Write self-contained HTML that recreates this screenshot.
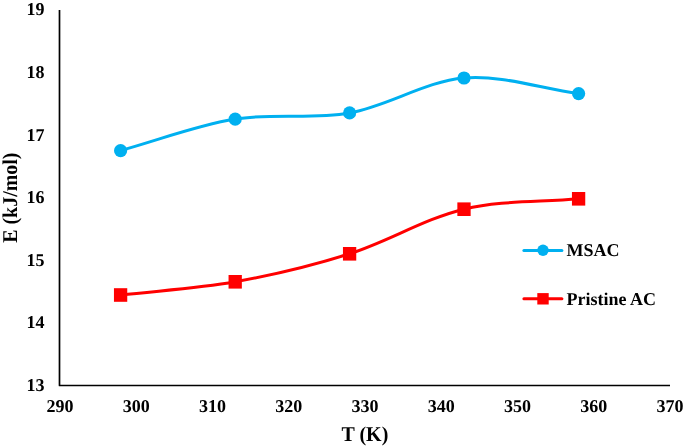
<!DOCTYPE html>
<html><head><meta charset="utf-8"><style>
html,body{margin:0;padding:0;background:#fff;width:685px;height:447px;overflow:hidden}
svg{display:block;will-change:transform}
text{font-family:"Liberation Serif",serif;font-weight:bold;fill:#000;text-rendering:geometricPrecision}
.t{font-size:18px}
.a{font-size:21px}
</style></head><body>
<svg width="685" height="447" viewBox="0 0 685 447">
<path d="M59.5,9.9 L59.5,385.5 L670,385.5" fill="none" stroke="#000" stroke-width="1.7" stroke-linejoin="round"/>
<text transform="translate(44.50,391.00)" text-anchor="end" class="t">13</text>
<text transform="translate(44.50,328.00)" text-anchor="end" class="t">14</text>
<text transform="translate(44.50,266.00)" text-anchor="end" class="t">15</text>
<text transform="translate(44.50,203.00)" text-anchor="end" class="t">16</text>
<text transform="translate(44.50,141.00)" text-anchor="end" class="t">17</text>
<text transform="translate(44.50,78.00)" text-anchor="end" class="t">18</text>
<text transform="translate(44.50,15.00)" text-anchor="end" class="t">19</text>
<text transform="translate(60.00,412.00)" text-anchor="middle" class="t">290</text>
<text transform="translate(136.25,412.00)" text-anchor="middle" class="t">300</text>
<text transform="translate(212.50,412.00)" text-anchor="middle" class="t">310</text>
<text transform="translate(288.75,412.00)" text-anchor="middle" class="t">320</text>
<text transform="translate(365.00,412.00)" text-anchor="middle" class="t">330</text>
<text transform="translate(441.25,412.00)" text-anchor="middle" class="t">340</text>
<text transform="translate(517.50,412.00)" text-anchor="middle" class="t">350</text>
<text transform="translate(593.75,412.00)" text-anchor="middle" class="t">360</text>
<text transform="translate(670.00,412.00)" text-anchor="middle" class="t">370</text>
<text transform="translate(364.90,441.00) scale(0.95,1.0)" text-anchor="middle" class="a">T (K)</text>
<text transform="translate(16.70,197.65) rotate(-90) scale(0.95,1.0)" text-anchor="middle" class="a">E (kJ/mol)</text>
<path d="M120.60,150.60 C158.80,140.10 196.33,125.50 235.20,119.10 C272.67,112.93 312.29,119.60 349.60,112.90 C388.55,105.90 425.19,81.28 464.00,78.00 C501.53,74.83 540.40,88.37 578.60,93.55" fill="none" stroke="#00B0F0" stroke-width="3" stroke-linecap="round"/>
<path d="M120.60,295.00 C158.80,290.60 197.43,288.60 235.20,281.80 C273.76,274.86 312.26,265.65 349.60,253.80 C388.53,241.45 424.60,218.66 464.00,209.20 C500.93,200.33 540.40,202.27 578.60,198.80" fill="none" stroke="#FF0000" stroke-width="3" stroke-linecap="round"/>
<circle cx="120.6" cy="150.6" r="6.6" fill="#00B0F0"/>
<circle cx="235.2" cy="119.1" r="6.6" fill="#00B0F0"/>
<circle cx="349.6" cy="112.9" r="6.6" fill="#00B0F0"/>
<circle cx="464.0" cy="78.0" r="6.6" fill="#00B0F0"/>
<circle cx="578.6" cy="93.55" r="6.6" fill="#00B0F0"/>
<rect x="113.95" y="288.20" width="13.3" height="13.6" fill="#FF0000"/>
<rect x="228.55" y="275.00" width="13.3" height="13.6" fill="#FF0000"/>
<rect x="342.95" y="247.00" width="13.3" height="13.6" fill="#FF0000"/>
<rect x="457.35" y="202.40" width="13.3" height="13.6" fill="#FF0000"/>
<rect x="571.95" y="192.00" width="13.3" height="13.6" fill="#FF0000"/>
<line x1="523.9" y1="250.4" x2="561.9" y2="250.4" stroke="#00B0F0" stroke-width="3" stroke-linecap="round"/>
<circle cx="543" cy="250.3" r="5.7" fill="#00B0F0"/>
<text transform="translate(566.50,256.30)" class="t">MSAC</text>
<line x1="523.9" y1="298.8" x2="561.9" y2="298.8" stroke="#FF0000" stroke-width="3" stroke-linecap="round"/>
<rect x="537.3" y="293.1" width="11.4" height="11.4" fill="#FF0000"/>
<text transform="translate(566.50,305.00)" class="t">Pristine AC</text>
</svg>
</body></html>
